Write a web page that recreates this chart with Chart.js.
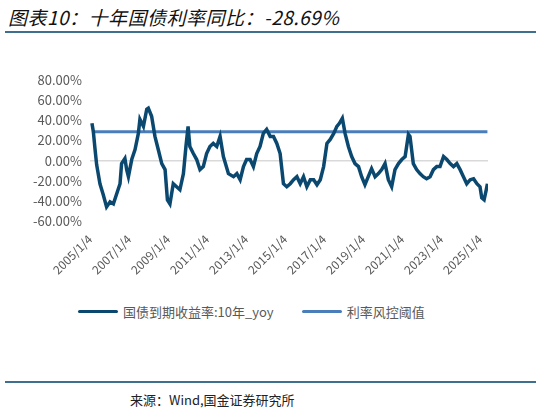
<!DOCTYPE html>
<html><head><meta charset="utf-8">
<script src="https://cdn.jsdelivr.net/npm/chart.js@4"></script>
<style>
body{margin:0;width:541px;height:410px;background:#fff;position:relative;overflow:hidden;font-family:"Noto Sans CJK SC",sans-serif}
#t{position:absolute;left:8px;top:3px;font-size:19px;font-style:italic;color:#111;letter-spacing:0.5px}
.rule{position:absolute;left:5px;width:531px;height:2px;background:#3f6f8f}
#src{position:absolute;left:130px;top:390px;font-size:13px;color:#222}
#lg{position:absolute;top:302px;left:78px;font-size:13px;color:#595959;display:flex;align-items:center}
.sw{display:inline-block;width:40px;height:3px;margin-right:5px;border-radius:2px}
#c{position:absolute;left:0;top:0}
</style></head><body>
<div id="t">图表10：十年国债利率同比：-28.69%</div>
<div class="rule" style="top:31px"></div>
<canvas id="c" width="541" height="290"></canvas>
<div id="lg"><span class="sw" style="background:#0b4870"></span>国债到期收益率:10年_yoy<span style="width:28px;display:inline-block"></span><span class="sw" style="background:#4a7ebb"></span>利率风控阈值</div>
<div class="rule" style="top:381px"></div>
<div id="src">来源：Wind,国金证券研究所</div>
<script>
const years=[2005.1,2005.17,2005.26,2005.34,2005.51,2005.68,2005.85,2006.03,2006.2,2006.37,2006.54,2006.62,2006.79,2006.88,2006.97,2007.14,2007.31,2007.48,2007.56,2007.74,2007.91,2007.99,2008.16,2008.33,2008.5,2008.68,2008.85,2008.97,2009.1,2009.27,2009.44,2009.61,2009.79,2009.92,2010.03,2010.12,2010.3,2010.47,2010.64,2010.81,2010.98,2011.15,2011.32,2011.5,2011.67,2011.84,2012.1,2012.36,2012.53,2012.7,2012.87,2013.03,2013.21,2013.38,2013.55,2013.72,2013.89,2014.06,2014.24,2014.41,2014.58,2014.75,2014.92,2015.09,2015.27,2015.44,2015.61,2015.78,2015.95,2016.12,2016.3,2016.47,2016.64,2016.81,2016.98,2017.15,2017.32,2017.5,2017.66,2017.79,2017.94,2018.08,2018.25,2018.42,2018.59,2018.77,2018.93,2019.1,2019.27,2019.44,2019.62,2019.79,2019.96,2020.13,2020.3,2020.47,2020.64,2020.82,2020.99,2021.16,2021.33,2021.41,2021.58,2021.75,2021.92,2022.09,2022.26,2022.44,2022.61,2022.78,2022.95,2023.13,2023.3,2023.47,2023.64,2023.81,2023.98,2024.15,2024.32,2024.5,2024.67,2024.84,2025.0,2025.09,2025.21,2025.32,2025.38];
const yoy=[37,29,11,-4,-23,-34,-46,-41,-43,-33,-23,-3,2,-9,-16,1,11,27,41,34,51,52,44,24,11,-3,-9,-39,-43,-23,-26,-29,-13,14,34,14,7,1,-9,-6,7,14,17,14,24,4,-13,-16,-13,-19,-6,1,1,-6,7,14,27,31,24,24,17,7,-23,-26,-23,-19,-16,-23,-16,-26,-19,-19,-24,-19,-6,17,21,27,34,37,42,27,14,4,-3,-6,-16,-24,-16,-8,-16,-13,-9,-3,-19,-26,-9,-3,1,4,26,24,-3,-9,-13,-16,-18,-16,-9,-6,-6,4,1,-3,-6,-3,-9,-16,-23,-19,-18,-23,-26,-37,-39,-29,-23];
const threshold=28.69;
const tickYears=[2005,2007,2009,2011,2013,2015,2017,2019,2021,2023,2025];
const yTicks=[80,60,40,20,0,-20,-40,-60];
const series=years.map((x,i)=>({x,y:yoy[i]}));
new Chart(document.getElementById('c'),{type:'line',
data:{datasets:[
{label:'国债到期收益率:10年_yoy',data:series,borderColor:'#0b4870',borderWidth:3.5,pointRadius:0,tension:0},
{label:'利率风控阈值',data:[{x:2005.1,y:threshold},{x:2025.38,y:threshold}],borderColor:'#4a7ebb',borderWidth:3,pointRadius:0}]},
options:{responsive:false,animation:false,
layout:{padding:{top:80,right:53,left:0,bottom:0}},
plugins:{legend:{display:false},tooltip:{enabled:false}},
scales:{
x:{type:'linear',min:2005,max:2025.41,afterBuildTicks:s=>{s.ticks=tickYears.map(v=>({value:v}));},
 afterFit:s=>{s.height=69;},
 ticks:{autoSkip:false,maxRotation:45,minRotation:45,color:'#595959',font:{size:12,family:'Noto Sans CJK SC'},callback:v=>v+'/1/4'},
 grid:{display:false},border:{display:false}},
y:{min:-60,max:80,afterBuildTicks:s=>{s.ticks=yTicks.map(v=>({value:v}));},
 afterFit:s=>{s.width=90;},
 ticks:{color:'#595959',font:{size:13,family:'Noto Sans CJK SC'},padding:8,callback:v=>v.toFixed(2)+'%'},
 grid:{drawTicks:false,color:c=>c.tick&&c.tick.value===0?'#d9d9d9':'rgba(0,0,0,0)',lineWidth:1.5},border:{display:false}}
}}});
</script></body></html>
